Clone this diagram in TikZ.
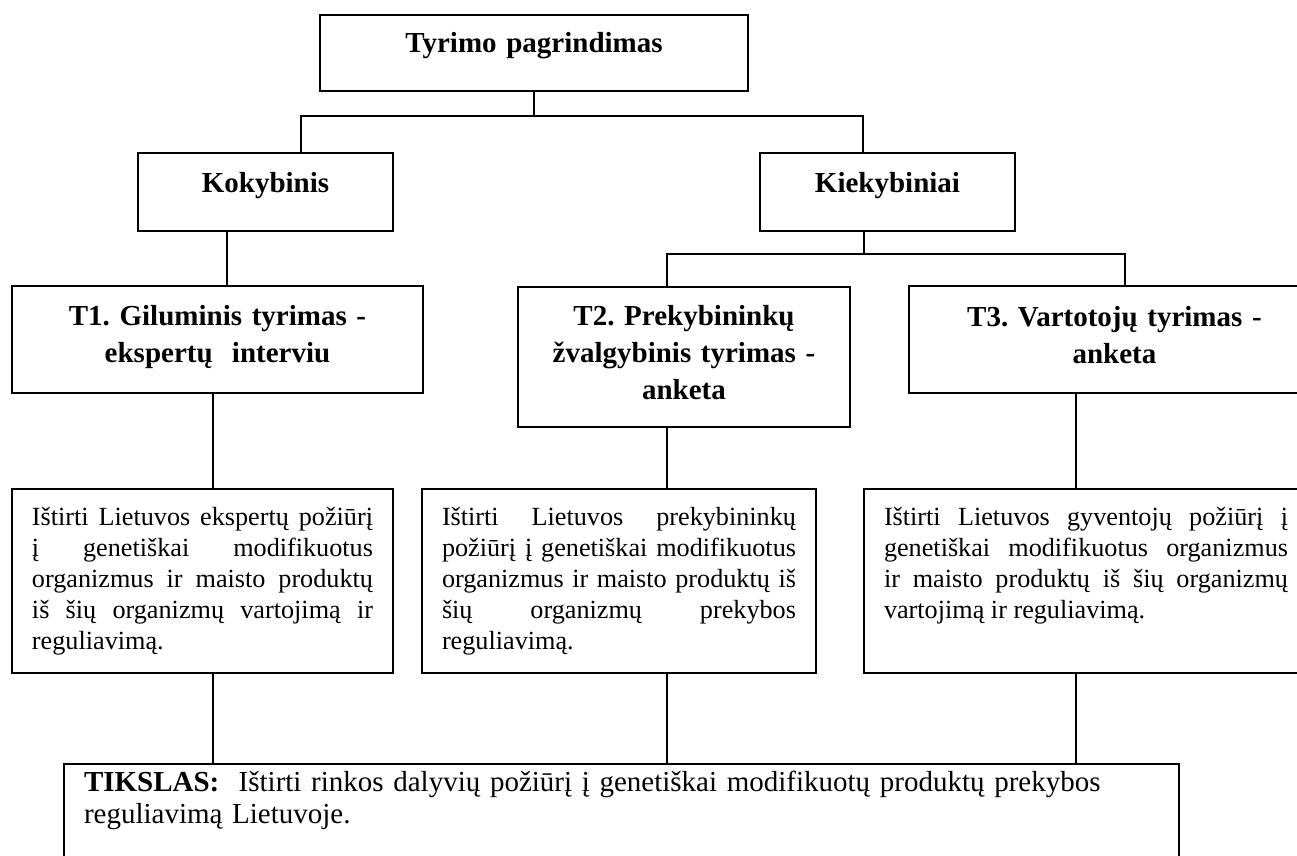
\documentclass[tikz,border=0pt]{standalone}
\usepackage{fontspec}
\setmainfont{Liberation Serif}
\begin{document}
\frenchspacing
\begin{tikzpicture}[x=0.5pt,y=-0.5pt,
  box/.style={draw, line width=1pt, inner sep=0pt, anchor=north west},
  ttl/.style={box, align=center, font=\fontsize{14.5}{18.5}\selectfont\bfseries},
  dsc/.style={box, inner xsep=10pt, align=justify, text height=18pt, text depth=74pt,
    font=\fontsize{13.1}{15.5}\selectfont,
    execute at begin node={\tolerance=10000 \hbadness=10000 \hyphenpenalty=10000 }},
  goalbox/.style={box, inner xsep=10pt, align=left,
    font=\fontsize{14.5}{16}\selectfont},
  conn/.style={line width=0.8pt}
]
\useasboundingbox (0,0) rectangle (1297,856);
\clip (0,0) rectangle (1297,856);

% boxes
\node[ttl, text width=214pt, text height=19pt, text depth=19pt] (top) at (319,14) {Tyrimo pagrindimas};
\node[ttl, text width=127.5pt, text height=19.5pt, text depth=19.5pt] (kok) at (137,152) {Kokybinis};
\node[ttl, text width=127.5pt, text height=19.5pt, text depth=19.5pt] (kiek) at (759,152) {Kiekybiniai};
\node[ttl, text width=205.5pt, text height=19.5pt, text depth=34pt] (t1) at (11,285) {T1. Giluminis tyrimas -\\ekspertų~ interviu};
\node[ttl, text width=166pt, text height=19pt, text depth=51pt] (t2) at (517,286) {T2. Prekybininkų\\žvalgybinis tyrimas -\\anketa};
\node[ttl, text width=205.5pt, text height=20pt, text depth=33.5pt] (t3) at (908,285) {T3. Vartotojų tyrimas -\\anketa};

\node[dsc, text width=170.5pt] (d1) at (11,488) {Ištirti Lietuvos ekspertų požiūrį\linebreak
į genetiškai modifikuotus\linebreak
organizmus ir maisto produktų\linebreak
iš šių organizmų vartojimą ir\linebreak
reguliavimą.};
\node[dsc, text width=177pt] (d2) at (421,488) {Ištirti Lietuvos prekybininkų\linebreak
požiūrį į genetiškai modifikuotus\linebreak
organizmus ir maisto produktų iš\linebreak
šių organizmų prekybos\linebreak
reguliavimą.};
\node[dsc, text width=202pt] (d3) at (863,488) {Ištirti Lietuvos gyventojų požiūrį į\linebreak
genetiškai modifikuotus organizmus\linebreak
ir maisto produktų iš šių organizmų\linebreak
vartojimą ir reguliavimą.};

\node[goalbox, text width=537.5pt, text height=13.5pt, text depth=40pt] (goal) at (63,763)
  {\textbf{TIKSLAS:}\ \ Ištirti rinkos dalyvių požiūrį į genetiškai modifikuotų produktų prekybos\\reguliavimą Lietuvoje.};

% junction coordinates
\coordinate (jL) at (301,116);
\coordinate (jR) at (863,116);
\coordinate (s1) at (227,0);
\coordinate (k2) at (864,254);
\coordinate (k2L) at (667,254);
\coordinate (k2R) at (1125,254);
\coordinate (x1) at (213,0);
\coordinate (x2) at (667,0);
\coordinate (x3) at (1076,0);

% connectors
\draw[conn] (top.south) -- (top.south |- jL);
\draw[conn] (kok.north -| jL) -- (jL) -- (jR) -- (kiek.north -| jR);
\draw[conn] (kok.south -| s1) -- (t1.north -| s1);
\draw[conn] (kiek.south -| k2) -- (k2);
\draw[conn] (t2.north -| k2L) -- (k2L) -- (k2R) -- (t3.north -| k2R);
\draw[conn] (t1.south -| x1) -- (d1.north -| x1);
\draw[conn] (t2.south -| x2) -- (d2.north -| x2);
\draw[conn] (t3.south -| x3) -- (d3.north -| x3);
\draw[conn] (d1.south -| x1) -- (goal.north -| x1);
\draw[conn] (d2.south -| x2) -- (goal.north -| x2);
\draw[conn] (d3.south -| x3) -- (goal.north -| x3);
\end{tikzpicture}
\end{document}
